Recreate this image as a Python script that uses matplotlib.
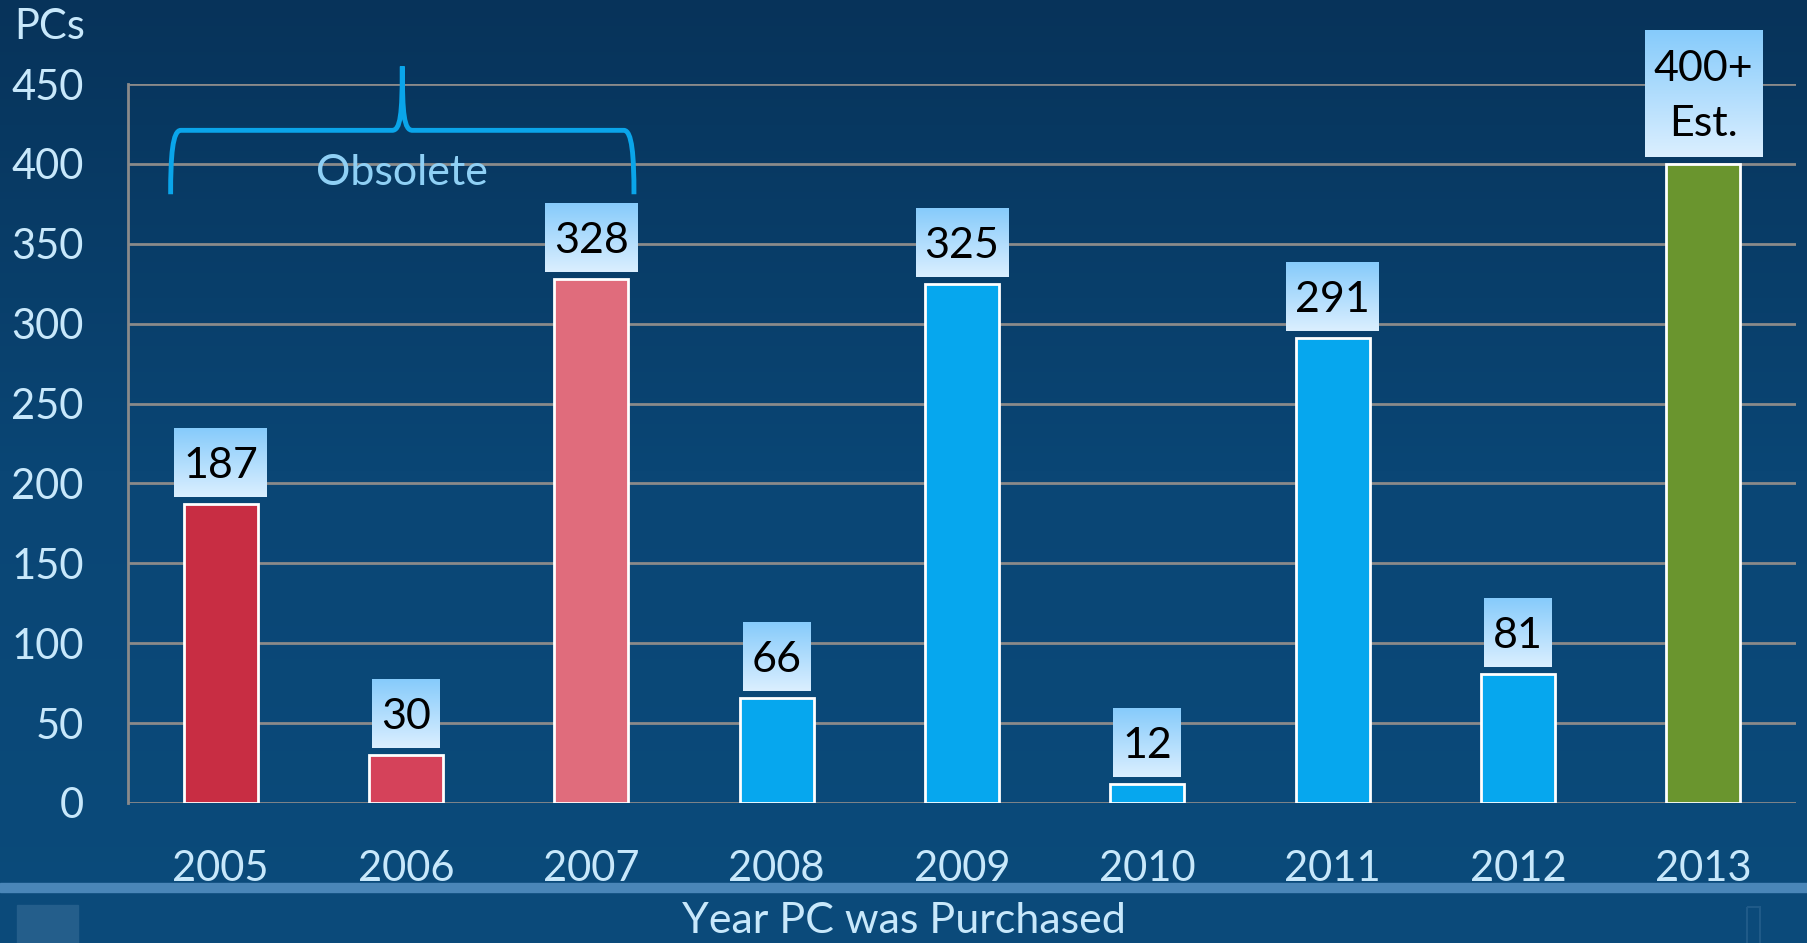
import numpy as np
import matplotlib
matplotlib.use("Agg")
import matplotlib.pyplot as plt
from matplotlib.colors import LinearSegmentedColormap
from matplotlib.patches import PathPatch, Rectangle
from matplotlib.path import Path

plt.rcParams["font.family"] = ["Lato", "DejaVu Sans"]

# data
years = ["2005", "2006", "2007", "2008", "2009", "2010", "2011", "2012", "2013"]
pcs = [187, 30, 328, 66, 325, 12, 291, 81, 400]
labels = ["187", "30", "328", "66", "325", "12", "291", "81", "400+\nEst."]
bar_colors = ["#c82d43", "#d5425a", "#e06c7c", "#06a7ee", "#06a7ee",
              "#06a7ee", "#06a7ee", "#06a7ee", "#6a952e"]
yticks = [0, 50, 100, 150, 200, 250, 300, 350, 400, 450]

W, H = 1808, 943
fig = plt.figure(figsize=(W / 100, H / 100), dpi=100)

# slide background gradient
bg = fig.add_axes([0, 0, 1, 1], zorder=-10)
bg_cmap = LinearSegmentedColormap.from_list("bg", ["#07335a", "#0a4675", "#0b4b7b"])
grad = np.linspace(0, 1, 256).reshape(-1, 1)
bg.imshow(grad, cmap=bg_cmap, aspect="auto", extent=[0, W, H, 0])
bg.set_xlim(0, W)
bg.set_ylim(H, 0)
bg.axis("off")
# bottom band of the slide template
bg.add_patch(Rectangle((0, 892), W, 51, color="#0b4a7a", zorder=2))
bg.add_patch(Rectangle((0, 883), W, 9, color="#4a86b8", zorder=3))
bg.add_patch(Rectangle((17, 905), 61, 40, color="#245e8b", zorder=3))
bg.add_patch(Rectangle((1747, 907), 13, 40, fill=False, ec="#1f5a88", lw=1.5, zorder=3))

ax = fig.add_axes([128 / W, 140 / H, 1668 / W, 719 / H])
ax.patch.set_alpha(0)
x = np.arange(len(years))
ax.bar(x, pcs, width=0.4, color=bar_colors, edgecolor="white", linewidth=2, zorder=3)

ax.set_xlim(-0.5, 8.5)
ax.set_ylim(0, 450)
ax.set_yticks(yticks)
ax.set_xticks(x, years)
ax.grid(axis="y", color="#8a8a8a", linewidth=2, zorder=1)
ax.set_axisbelow(True)
for s in ["top", "right", "bottom"]:
    ax.spines[s].set_visible(False)
ax.spines["left"].set_color("#8a8a8a")
ax.spines["left"].set_linewidth(2)
ax.tick_params(axis="y", length=0, pad=32, labelsize=30, labelcolor="#c8e8fb")
ax.tick_params(axis="x", length=0, pad=34, labelsize=30, labelcolor="#c8e8fb")

fig.text(14 / W, 1 - 27 / H, "PCs", fontsize=30, color="#c8e8fb", ha="left", va="center")
fig.text(0.5, 1 - 933 / H, "Year PC was Purchased", fontsize=31, color="#c8e8fb",
         ha="center", va="baseline")

# value label boxes with light-blue gradient
fig.canvas.draw()
renderer = fig.canvas.get_renderer()
p0 = ax.transData.transform((0, 0))
p1 = ax.transData.transform((1, 1))
ppx, ppy = p1[0] - p0[0], p1[1] - p0[1]
box_cmap = LinearSegmentedColormap.from_list("box", ["#dbefff", "#86cbfb"])
for xi, v, lab in zip(x, pcs, labels):
    nlines = lab.count("\n") + 1
    h_px = 68 if nlines == 1 else 126
    bottom = v + 7 / ppy
    top = bottom + h_px / ppy
    t = ax.text(xi, (bottom + top) / 2 - 3 / ppy, lab, fontsize=31, color="black",
                ha="center", va="center", linespacing=1.55, zorder=6, clip_on=False)
    w_px = t.get_window_extent(renderer).width + 18
    half = w_px / 2 / ppx
    ax.imshow(grad, cmap=box_cmap, aspect="auto", origin="lower",
              extent=[xi - half, xi + half, bottom, top], zorder=5, clip_on=False)

ax.set_xlim(-0.5, 8.5)
ax.set_ylim(0, 450)

# "Obsolete" brace over 2005-2007
x0, x1, xc = -0.27, 2.23, 0.98
y_end, y_bar, y_tip = 381, 421, 461
verts = [
    (x0, y_end), (x0, y_end + 0.6 * (y_bar - y_end)), (x0 + 0.01, y_bar), (x0 + 0.055, y_bar),
    (xc - 0.055, y_bar),
    (xc - 0.01, y_bar), (xc, y_bar + 10), (xc, y_tip),
    (xc, y_bar + 10), (xc + 0.01, y_bar), (xc + 0.055, y_bar),
    (x1 - 0.055, y_bar),
    (x1 - 0.01, y_bar), (x1, y_end + 0.6 * (y_bar - y_end)), (x1, y_end),
]
codes = [Path.MOVETO, Path.CURVE4, Path.CURVE4, Path.CURVE4, Path.LINETO,
         Path.CURVE4, Path.CURVE4, Path.CURVE4, Path.CURVE4, Path.CURVE4, Path.CURVE4,
         Path.LINETO, Path.CURVE4, Path.CURVE4, Path.CURVE4]
ax.add_patch(PathPatch(Path(verts, codes), fill=False, ec="#0aa5ea", lw=3.5,
                       zorder=4, clip_on=False))
ax.text(xc, 394, "Obsolete", fontsize=31, color="#8fd0f5", ha="center", va="center", zorder=4)

fig.savefig("out.png", dpi=100)
